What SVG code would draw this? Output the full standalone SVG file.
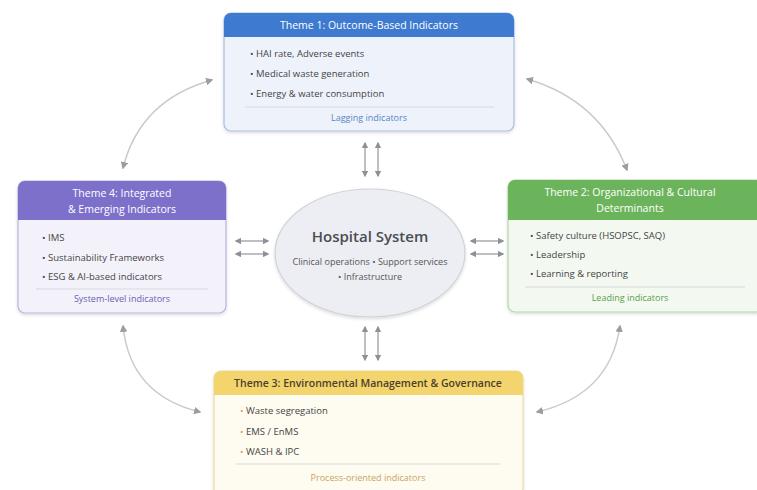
<svg xmlns="http://www.w3.org/2000/svg" width="757" height="490" viewBox="0 0 757 490">
<style>
text{font-family:"Open Sans","Noto Sans","Liberation Sans",sans-serif}
.hd{font-size:10.5px;fill:#fff;text-anchor:middle}
.it{font-size:9.5px;fill:#444}
.ft{font-size:9px;text-anchor:middle}
.sep{stroke:#d6d9de;stroke-width:1}
.ar{fill:none;stroke:#9a9da3;stroke-width:1.3;marker-start:url(#ah);marker-end:url(#ah)}
.cv{fill:none;stroke:#c8cacd;stroke-width:1.5;marker-start:url(#ah2);marker-end:url(#ah2)}
</style>
<defs>
<marker id="ah" viewBox="0 0 10 10" refX="8" refY="5" markerWidth="5" markerHeight="5" orient="auto-start-reverse"><path d="M0,0L10,5L0,10z" fill="#8d9096"/></marker>
<marker id="ah2" viewBox="0 0 10 10" refX="8" refY="5" markerWidth="5" markerHeight="5" orient="auto-start-reverse"><path d="M0,0L10,5L0,10z" fill="#9a9da3"/></marker>
<filter id="sh" x="-10%" y="-10%" width="120%" height="130%"><feDropShadow dx="0" dy="1.5" stdDeviation="1.5" flood-color="#000" flood-opacity="0.15"/></filter>
</defs>
<rect width="757" height="490" fill="#fff"/>

<g id="connectors">
<path class="cv" d="M212,80 Q140,100 123,168"/>
<path class="cv" d="M527,79 Q600,100 627,170"/>
<path class="cv" d="M123,326 Q130,395 200,412"/>
<path class="cv" d="M620,326 Q610,395 537,412"/>
<line class="ar" x1="365" y1="143" x2="365" y2="176"/>
<line class="ar" x1="378" y1="143" x2="378" y2="176"/>
<line class="ar" x1="365" y1="327" x2="365" y2="360"/>
<line class="ar" x1="378" y1="327" x2="378" y2="360"/>
<line class="ar" x1="236" y1="241" x2="268" y2="241"/>
<line class="ar" x1="236" y1="254" x2="268" y2="254"/>
<line class="ar" x1="471" y1="241" x2="503" y2="241"/>
<line class="ar" x1="471" y1="254" x2="503" y2="254"/>
</g>

<g id="hospital">
<ellipse cx="370" cy="253" rx="95" ry="64" fill="#eceef3" stroke="#cfd2d8" stroke-width="1.2" filter="url(#sh)"/>
<text x="370" y="242" text-anchor="middle" font-size="15" font-weight="600" fill="#4a4d52">Hospital System</text>
<text x="370" y="265" text-anchor="middle" font-size="9" fill="#555">Clinical operations • Support services</text>
<text x="370" y="280" text-anchor="middle" font-size="9" fill="#555">• Infrastructure</text>
</g>

<g id="theme1">
<rect x="224" y="13" width="290" height="118" rx="7" fill="#eef3fb" stroke="#a9bfe0" stroke-width="1.2" filter="url(#sh)"/>
<path d="M224,37 V20 a7,7 0 0 1 7,-7 H507 a7,7 0 0 1 7,7 V37 z" fill="#3d7ad0"/>
<text class="hd" x="369" y="29">Theme 1: Outcome-Based Indicators</text>
<text class="it" x="250" y="57">• HAI rate, Adverse events</text>
<text class="it" x="250" y="77">• Medical waste generation</text>
<text class="it" x="250" y="97">• Energy &amp; water consumption</text>
<line class="sep" x1="245" y1="107" x2="494" y2="107"/>
<text class="ft" x="369" y="121" fill="#5585c8">Lagging indicators</text>
</g>

<g id="theme4">
<rect x="18" y="181" width="208" height="132" rx="7" fill="#f3f2fb" stroke="#b9b3e0" stroke-width="1.2" filter="url(#sh)"/>
<path d="M18,220 V188 a7,7 0 0 1 7,-7 H219 a7,7 0 0 1 7,7 V220 z" fill="#7d70cb"/>
<text class="hd" x="122" y="197">Theme 4: Integrated</text>
<text class="hd" x="122" y="213">&amp; Emerging Indicators</text>
<text class="it" x="42" y="241">• IMS</text>
<text class="it" x="42" y="261">• Sustainability Frameworks</text>
<text class="it" x="42" y="280">• ESG &amp; AI-based indicators</text>
<line class="sep" x1="36" y1="289" x2="208" y2="289"/>
<text class="ft" x="122" y="302" fill="#6b60b3">System-level indicators</text>
</g>

<g id="theme2">
<rect x="508" y="180" width="255" height="132" rx="7" fill="#f3f9f1" stroke="#b5d6ab" stroke-width="1.2" filter="url(#sh)"/>
<path d="M508,220 V187 a7,7 0 0 1 7,-7 H763 V220 z" fill="#6cb45c"/>
<text class="hd" x="630" y="196">Theme 2: Organizational &amp; Cultural</text>
<text class="hd" x="630" y="212">Determinants</text>
<text class="it" x="530" y="239">• Safety culture (HSOPSC, SAQ)</text>
<text class="it" x="530" y="258">• Leadership</text>
<text class="it" x="530" y="277">• Learning &amp; reporting</text>
<line class="sep" x1="525" y1="287" x2="745" y2="287"/>
<text class="ft" x="630" y="301" fill="#5a9e4a">Leading indicators</text>
</g>

<g id="theme3">
<rect x="214" y="371" width="309" height="125" rx="7" fill="#fefbf1" stroke="#ecdca8" stroke-width="1.2" filter="url(#sh)"/>
<path d="M214,395 V378 a7,7 0 0 1 7,-7 H516 a7,7 0 0 1 7,7 V395 z" fill="#f4d46c"/>
<text x="368" y="387" text-anchor="middle" font-size="10.5" font-weight="600" fill="#4a4130">Theme 3: Environmental Management &amp; Governance</text>
<text class="it" x="240" y="414"><tspan fill="#e8a040">•</tspan> Waste segregation</text>
<text class="it" x="240" y="435"><tspan fill="#e8a040">•</tspan> EMS / EnMS</text>
<text class="it" x="240" y="455"><tspan fill="#e8a040">•</tspan> WASH &amp; IPC</text>
<line class="sep" x1="236" y1="464" x2="500" y2="464"/>
<text class="ft" x="368" y="481" fill="#c9a460">Process-oriented indicators</text>
</g>
</svg>
